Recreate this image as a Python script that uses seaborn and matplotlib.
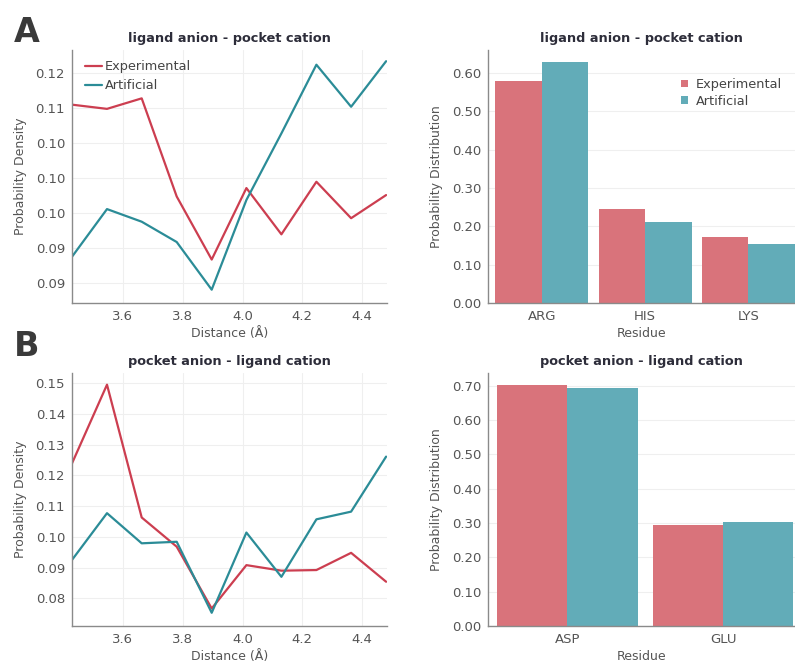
import numpy as np
import pandas as pd
import matplotlib
matplotlib.use("Agg")
import matplotlib.pyplot as plt
import seaborn as sns

# ---- data -------------------------------------------------------------
distance = [3.43, 3.547, 3.663, 3.78, 3.897, 4.013, 4.13, 4.247, 4.363, 4.48]

la_pc_experimental = [0.1155, 0.1149, 0.1164, 0.1024, 0.0934, 0.1036, 0.0970, 0.1045, 0.0993, 0.1026]
la_pc_artificial = [0.0938, 0.1006, 0.0988, 0.0959, 0.0891, 0.1019, 0.1114, 0.1212, 0.1152, 0.1217]

pa_lc_experimental = [0.1239, 0.1495, 0.1063, 0.0968, 0.0767, 0.0908, 0.0890, 0.0892, 0.0948, 0.0854]
pa_lc_artificial = [0.0925, 0.1077, 0.0979, 0.0984, 0.0753, 0.1014, 0.0870, 0.1057, 0.1082, 0.1261]

cation_residues = ["ARG", "HIS", "LYS"]
cation_experimental = [0.580, 0.245, 0.172]
cation_artificial = [0.630, 0.212, 0.153]

anion_residues = ["ASP", "GLU"]
anion_experimental = [0.702, 0.295]
anion_artificial = [0.692, 0.303]

la_pc_ytick_values = [0.09, 0.095, 0.10, 0.105, 0.11, 0.115, 0.12]
la_pc_ytick_labels = ["0.09", "0.09", "0.10", "0.10", "0.10", "0.11", "0.12"]

series_names = ["Experimental", "Artificial"]

# ---- style ------------------------------------------------------------
sns.set_theme(style="whitegrid")
plt.rcParams["font.family"] = ["DejaVu Sans"]
plt.rcParams.update({
    "axes.edgecolor": "#8a8a8a",
    "axes.linewidth": 1.0,
    "grid.color": "#efefef",
    "grid.linewidth": 0.8,
    "xtick.color": "#555555",
    "ytick.color": "#555555",
    "xtick.labelcolor": "#555555",
    "ytick.labelcolor": "#555555",
    "axes.labelcolor": "#555555",
    "xtick.labelsize": 9.5,
    "ytick.labelsize": 9.5,
    "axes.labelsize": 9,
})

line_palette = {"Experimental": "#cc3e50", "Artificial": "#2b8c97"}
bar_palette = {"Experimental": "#d9737b", "Artificial": "#62acb8"}

W, H = 795, 666
fig = plt.figure(figsize=(W / 100, H / 100), dpi=100)


def ax_at(left, top, right, bottom):
    return fig.add_axes([left / W, 1 - bottom / H, (right - left) / W, (bottom - top) / H])


ax_tl = ax_at(72, 50, 387, 303)
ax_tr = ax_at(488, 50, 795, 303)
ax_bl = ax_at(72, 373, 387, 626)
ax_br = ax_at(488, 373, 795, 626)


def long_lines(exp, art):
    return pd.DataFrame({
        "Distance": distance * 2,
        "Density": exp + art,
        "Source": ["Experimental"] * len(exp) + ["Artificial"] * len(art),
    })


def long_bars(residues, exp, art):
    return pd.DataFrame({
        "Residue": residues * 2,
        "Prob": exp + art,
        "Source": ["Experimental"] * len(exp) + ["Artificial"] * len(art),
    })


def style_axes(ax, title, xlabel, ylabel):
    ax.set_title(title, fontsize=9.3, fontweight="bold", color="#2d2d3a", pad=6)
    ax.set_xlabel(xlabel, labelpad=3)
    ax.set_ylabel(ylabel, labelpad=6)
    for side in ("top", "right"):
        ax.spines[side].set_visible(False)
    ax.tick_params(axis="both", length=3, width=0.8, color="#8a8a8a", pad=2)


# ---- line charts ------------------------------------------------------
for ax, exp, art, title, ylim in [
    (ax_tl, la_pc_experimental, la_pc_artificial, "ligand anion - pocket cation", (0.0872, 0.1233)),
    (ax_bl, pa_lc_experimental, pa_lc_artificial, "pocket anion - ligand cation", (0.0710, 0.1533)),
]:
    sns.lineplot(data=long_lines(exp, art), x="Distance", y="Density", hue="Source",
                 hue_order=series_names, palette=line_palette, linewidth=1.6, ax=ax,
                 legend=(ax is ax_tl))
    ax.set_xlim(distance[0], 4.483)
    ax.set_ylim(*ylim)
    ax.set_xticks([3.6, 3.8, 4.0, 4.2, 4.4])
    style_axes(ax, title, "Distance (Å)", "Probability Density")

ax_tl.set_yticks(la_pc_ytick_values, la_pc_ytick_labels)
ax_bl.set_yticks([0.08, 0.09, 0.10, 0.11, 0.12, 0.13, 0.14, 0.15])
ax_bl.yaxis.set_major_formatter(matplotlib.ticker.FormatStrFormatter("%.2f"))

leg = ax_tl.legend(loc="upper left", frameon=False, fontsize=9.3, handlelength=1.3,
                   handletextpad=0.2, labelspacing=0.45, borderaxespad=0.0,
                   bbox_to_anchor=(0.025, 0.98))
for t in leg.get_texts():
    t.set_color("#444444")

# ---- bar charts -------------------------------------------------------
for ax, residues, exp, art, title, ylim, xlim in [
    (ax_tr, cation_residues, cation_experimental, cation_artificial,
     "ligand anion - pocket cation", (0, 0.66), (-0.52, 2.45)),
    (ax_br, anion_residues, anion_experimental, anion_artificial,
     "pocket anion - ligand cation", (0, 0.737), (-0.51, 1.46)),
]:
    sns.barplot(data=long_bars(residues, exp, art), x="Residue", y="Prob", hue="Source",
                hue_order=series_names, palette=bar_palette, width=0.9, gap=0,
                saturation=1, linewidth=0, ax=ax, legend=(ax is ax_tr))
    ax.set_ylim(*ylim)
    ax.set_xlim(*xlim)
    ax.yaxis.set_major_locator(matplotlib.ticker.MultipleLocator(0.1))
    ax.yaxis.set_major_formatter(matplotlib.ticker.FormatStrFormatter("%.2f"))
    ax.grid(axis="x", visible=False)
    style_axes(ax, title, "Residue", "Probability Distribution")

leg2 = ax_tr.legend(loc="upper left", bbox_to_anchor=(0.59, 0.935), frameon=False,
                    fontsize=9.3, handlelength=0.55, handleheight=0.55, handletextpad=0.6,
                    labelspacing=0.3)
for t in leg2.get_texts():
    t.set_color("#444444")

# ---- panel letters ----------------------------------------------------
fig.text(14 / W, 1 - 42 / H, "A", fontsize=24, fontweight="bold", color="#3a3a3a")
fig.text(14 / W, 1 - 356 / H, "B", fontsize=24, fontweight="bold", color="#3a3a3a")

fig.savefig("out.png", dpi=100)
